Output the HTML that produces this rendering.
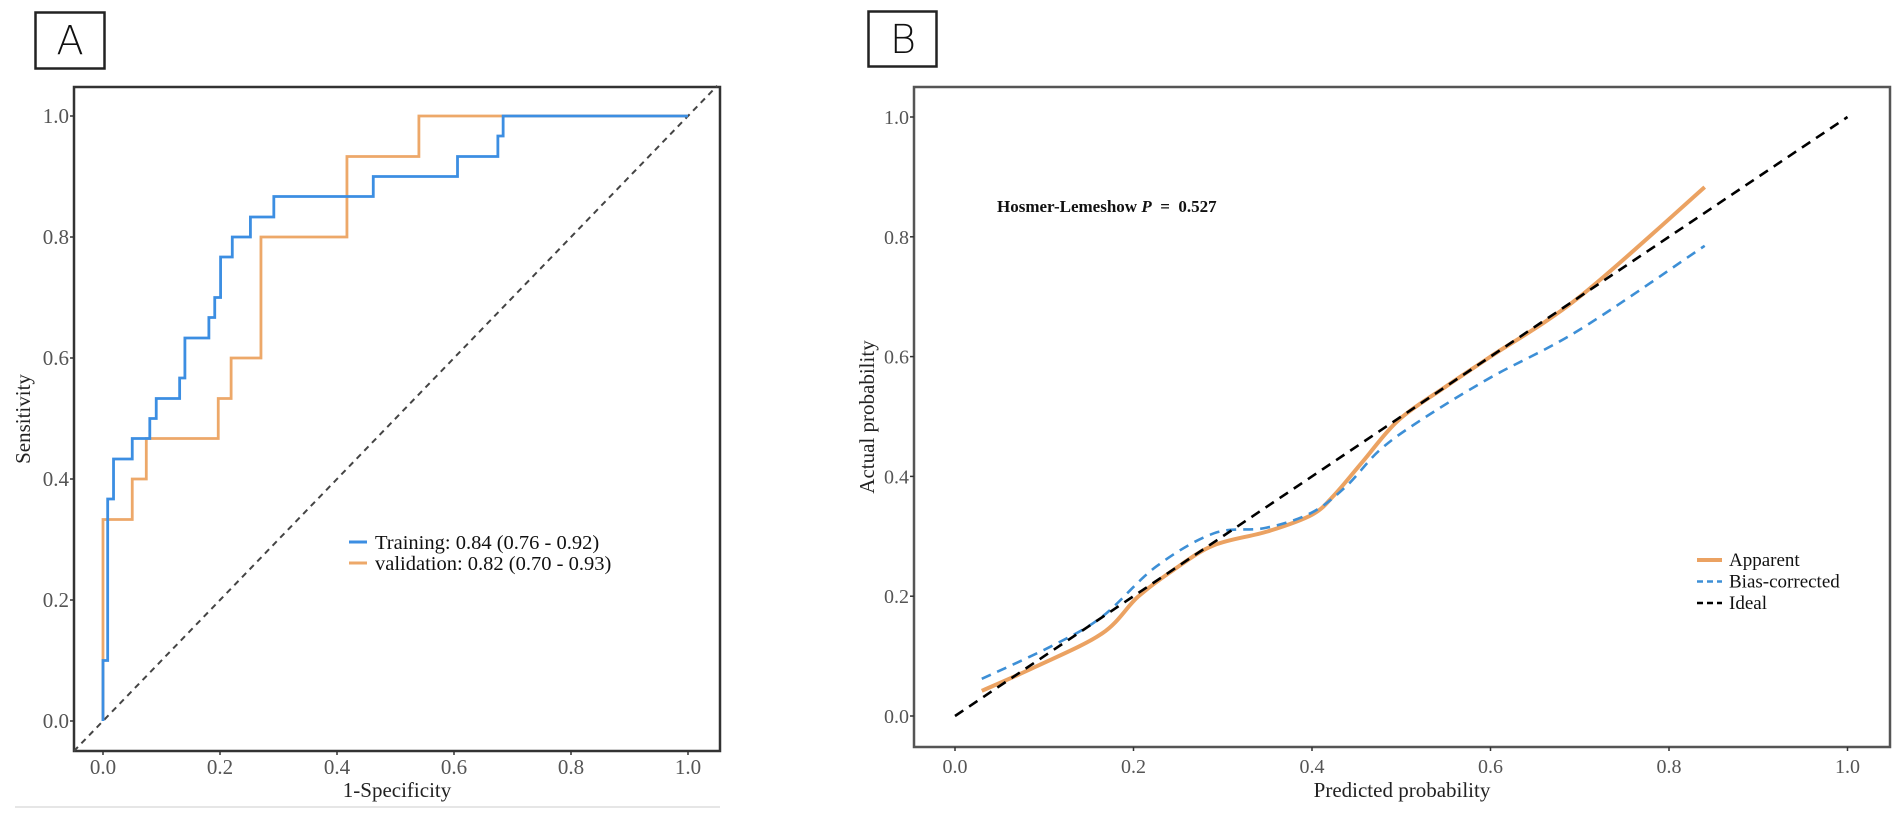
<!DOCTYPE html>
<html><head><meta charset="utf-8"><style>
html,body{margin:0;padding:0;background:#fff;}
svg{display:block;font-family:"Liberation Serif",serif;}
</style></head><body>
<svg id="c" width="1902" height="822" viewBox="0 0 1902 822" xmlns="http://www.w3.org/2000/svg"></svg>
<script>
// ---- Panel A data (ROC) ----
const trainFpr = [0, 0.008, 0.018, 0.05, 0.08, 0.091, 0.131, 0.14, 0.181, 0.191, 0.201, 0.221, 0.252, 0.292, 0.462, 0.606, 0.675, 0.684, 1.0];
const trainTpr = [0.1, 0.367, 0.433, 0.467, 0.5, 0.533, 0.567, 0.633, 0.667, 0.7, 0.767, 0.8, 0.833, 0.867, 0.9, 0.933, 0.967, 1.0, 1.0];
const valFpr = [0, 0.05, 0.074, 0.197, 0.219, 0.27, 0.417, 0.54, 1.0];
const valTpr = [0.333, 0.4, 0.467, 0.533, 0.6, 0.8, 0.933, 1.0, 1.0];
const rocTicks = [0, 0.2, 0.4, 0.6, 0.8, 1.0];
const rocTickLabels = ["0.0", "0.2", "0.4", "0.6", "0.8", "1.0"];
const rocLegend = ["Training: 0.84 (0.76 - 0.92)", "validation: 0.82 (0.70 - 0.93)"];
// ---- Panel B data (calibration) ----
const appX = [0.03, 0.09, 0.165, 0.205, 0.245, 0.29, 0.35, 0.40, 0.425, 0.457, 0.497, 0.55, 0.6, 0.7, 0.84];
const appY = [0.042, 0.082, 0.138, 0.199, 0.244, 0.285, 0.308, 0.336, 0.369, 0.425, 0.494, 0.55, 0.6, 0.7, 0.883];
const biasX = [0.03, 0.11, 0.165, 0.225, 0.29, 0.348, 0.399, 0.438, 0.476, 0.522, 0.6, 0.7, 0.84];
const biasY = [0.062, 0.118, 0.166, 0.249, 0.305, 0.314, 0.339, 0.383, 0.444, 0.494, 0.565, 0.645, 0.785];
const idealX = [0, 1];
const idealY = [0, 1];
const calTicks = [0, 0.2, 0.4, 0.6, 0.8, 1.0];
const calTickLabels = ["0.0", "0.2", "0.4", "0.6", "0.8", "1.0"];
const calLegend = ["Apparent", "Bias-corrected", "Ideal"];
const hlText = "Hosmer-Lemeshow";
const hlValue = "0.527";

const NS = "http://www.w3.org/2000/svg";
const svg = document.getElementById("c");
function mk(tag, attrs, parent) {
  const e = document.createElementNS(NS, tag);
  for (const k in attrs) e.setAttribute(k, attrs[k]);
  (parent || svg).appendChild(e);
  return e;
}

const ax = v => 103 + v * 585;
const ay = v => 721 - v * 605;
const bx = v => 955 + v * 892.5;
const by = v => 716 - v * 599;

const boxA = mk("rect", {x: 35.5, y: 12.5, width: 69, height: 56, fill: "none", stroke: "#222", "stroke-width": 2.5});


const lA = mk("text", {x: 70, y: 54, "text-anchor": "middle", "font-size": 40, "font-family": "DejaVu Sans, sans-serif", "font-weight": 200, fill: "#111"});
lA.textContent = "A";


const boxB = mk("rect", {x: 868.5, y: 11.5, width: 68, height: 55, fill: "none", stroke: "#222", "stroke-width": 2.5});


const lB = mk("text", {x: 903, y: 53, "text-anchor": "middle", "font-size": 40, "font-family": "DejaVu Sans, sans-serif", "font-weight": 200, fill: "#111"});
lB.textContent = "B";



const sep = mk("line", {x1: 15, y1: 807, x2: 720, y2: 807, stroke: "#e6e6e6", "stroke-width": 2});



// ---- Panel A ----
const gA = mk("g", {});


const frameA = mk("rect", {x: 74, y: 87, width: 646, height: 664, fill: "none", stroke: "#333", "stroke-width": 2.5}, gA);


const diag = mk("line", {x1: ax(-0.05), y1: ay(-0.05), x2: ax(1.05), y2: ay(1.05), stroke: "#444", "stroke-width": 2, "stroke-dasharray": "6,5"}, gA);


rocTicks.forEach((t, i) => {
  const tx = mk("line", {x1: ax(t), y1: 751, x2: ax(t), y2: 755, stroke: "#333", "stroke-width": 1.5}, gA);
  
  
  const lx = mk("text", {x: ax(t), y: 774, "text-anchor": "middle", "font-size": 21, fill: "#555"}, gA);
  lx.textContent = rocTickLabels[i];
  
  
  const ty = mk("line", {x1: 70, y1: ay(t), x2: 74, y2: ay(t), stroke: "#333", "stroke-width": 1.5}, gA);
  
  
  const ly = mk("text", {x: 69, y: ay(t) + 7, "text-anchor": "end", "font-size": 21, fill: "#555"}, gA);
  ly.textContent = rocTickLabels[i];
  
  
});
const xtA = mk("text", {x: 397, y: 797, "text-anchor": "middle", "font-size": 21, fill: "#222"}, gA);
xtA.textContent = "1-Specificity";


const ytA = mk("text", {x: 0, y: 0, "text-anchor": "middle", "font-size": 21, fill: "#222", transform: "translate(30,419) rotate(-90)"}, gA);
ytA.textContent = "Sensitivity";



function stepPath(fx, ty) {
  let d = "M" + ax(0) + "," + ay(0);
  for (let i = 0; i < fx.length; i++) {
    d += " L" + ax(fx[i]) + "," + (i === 0 ? ay(0) : ay(ty[i - 1]));
    d += " L" + ax(fx[i]) + "," + ay(ty[i]);
  }
  return d;
}
const valLine = mk("path", {d: stepPath(valFpr, valTpr), fill: "none", stroke: "#eda869", "stroke-width": 2.8}, gA);


const trLine = mk("path", {d: stepPath(trainFpr, trainTpr), fill: "none", stroke: "#3c8ee2", "stroke-width": 2.8}, gA);



const legColsA = ["#3c8ee2", "#eda869"];
rocLegend.forEach((s, i) => {
  const y = 542 + i * 21;
  const l = mk("line", {x1: 349, y1: y, x2: 367, y2: y, stroke: legColsA[i], "stroke-width": 3}, gA);
  
  
  const t = mk("text", {x: 375, y: y + 7, "font-size": 20.5, fill: "#111"}, gA);
  t.textContent = s;
  
  
});

// ---- Panel B ----
const gB = mk("g", {});


const frameB = mk("rect", {x: 914, y: 87, width: 976, height: 660, fill: "none", stroke: "#555", "stroke-width": 2.5}, gB);


calTicks.forEach((t, i) => {
  const tx = mk("line", {x1: bx(t), y1: 747, x2: bx(t), y2: 751, stroke: "#333", "stroke-width": 1.5}, gB);
  
  
  const lx = mk("text", {x: bx(t), y: 773, "text-anchor": "middle", "font-size": 20, fill: "#555"}, gB);
  lx.textContent = calTickLabels[i];
  
  
  const ty = mk("line", {x1: 910, y1: by(t), x2: 914, y2: by(t), stroke: "#333", "stroke-width": 1.5}, gB);
  
  
  const ly = mk("text", {x: 909, y: by(t) + 7, "text-anchor": "end", "font-size": 20, fill: "#555"}, gB);
  ly.textContent = calTickLabels[i];
  
  
});
const xtB = mk("text", {x: 1402, y: 797, "text-anchor": "middle", "font-size": 21, fill: "#222"}, gB);
xtB.textContent = "Predicted probability";


const ytB = mk("text", {x: 0, y: 0, "text-anchor": "middle", "font-size": 21, fill: "#222", transform: "translate(874,417) rotate(-90)"}, gB);
ytB.textContent = "Actual probability";



function smooth(xs, ys) {
  const p = xs.map((x, i) => [bx(x), by(ys[i])]);
  let d = "M" + p[0][0] + "," + p[0][1];
  for (let i = 0; i < p.length - 1; i++) {
    const p0 = p[Math.max(0, i - 1)], p1 = p[i], p2 = p[i + 1], p3 = p[Math.min(p.length - 1, i + 2)];
    const c1x = p1[0] + (p2[0] - p0[0]) / 6, c1y = p1[1] + (p2[1] - p0[1]) / 6;
    const c2x = p2[0] - (p3[0] - p1[0]) / 6, c2y = p2[1] - (p3[1] - p1[1]) / 6;
    d += " C" + c1x + "," + c1y + " " + c2x + "," + c2y + " " + p2[0] + "," + p2[1];
  }
  return d;
}
const appLine = mk("path", {d: smooth(appX, appY), fill: "none", stroke: "#eba262", "stroke-width": 4}, gB);


const biasLine = mk("path", {d: smooth(biasX, biasY), fill: "none", stroke: "#3d8fd6", "stroke-width": 2.6, "stroke-dasharray": "10,7"}, gB);


const idealLine = mk("path", {d: "M" + bx(idealX[0]) + "," + by(idealY[0]) + " L" + bx(idealX[1]) + "," + by(idealY[1]), fill: "none", stroke: "#000", "stroke-width": 2.6, "stroke-dasharray": "10,7"}, gB);



const hl = mk("text", {x: 997, y: 212, "font-size": 17, "font-weight": "bold", fill: "#111"}, gB);


const s1 = mk("tspan", {}, hl); s1.textContent = hlText + "\u00a0";
const s2 = mk("tspan", {"font-style": "italic"}, hl); s2.textContent = "P";
const s3 = mk("tspan", {}, hl); s3.textContent = "\u00a0\u00a0=\u00a0\u00a0" + hlValue;

const legB = [["#eba262", "none", 4], ["#3d8fd6", "6,4", 2.6], ["#000", "6,4", 2.6]];
calLegend.forEach((s, i) => {
  const y = 560 + i * 21.5;
  const l = mk("line", {x1: 1697, y1: y, x2: 1722, y2: y, stroke: legB[i][0], "stroke-width": legB[i][2], "stroke-dasharray": legB[i][1]}, gB);
  
  
  const t = mk("text", {x: 1729, y: y + 6, "font-size": 19, fill: "#111"}, gB);
  t.textContent = s;
  
  
});
</script>
</body></html>
